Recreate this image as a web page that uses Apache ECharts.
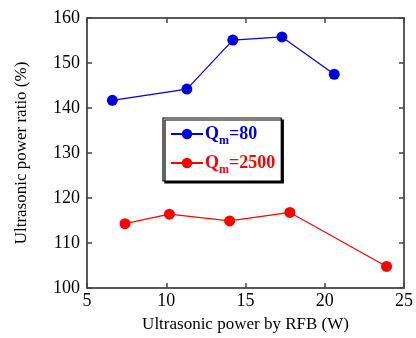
<!DOCTYPE html>
<html>
<head>
<meta charset="utf-8">
<script src="https://cdn.jsdelivr.net/npm/echarts@6/dist/echarts.min.js"></script>
<style>
  html, body { margin: 0; padding: 0; background: #fff; }
  #chart { width: 416px; height: 338px; }
</style>
</head>
<body>
<div id="chart"></div>
<script>
// data
var q80X = [6.6, 11.3, 14.2, 17.3, 20.6];
var q80Y = [141.7, 144.2, 155.1, 155.8, 147.5];
var q2500X = [7.4, 10.2, 14.0, 17.8, 23.9];
var q2500Y = [114.3, 116.4, 114.9, 116.8, 104.8];
var seriesNames = ['Qm=80', 'Qm=2500'];

var blue = '#0000dd';
var red = '#ff0000';
var font = 'Liberation Serif';

function pairs(xs, ys) {
    return xs.map(function (x, i) { return [x, ys[i]]; });
}

var chart = echarts.init(document.getElementById('chart'));

var axisLine = { lineStyle: { color: '#222', width: 1.5 } };
var axisTick = { inside: true, length: 5, lineStyle: { color: '#444', width: 1.5 } };

var option = {
    animation: false,
    textStyle: { fontFamily: font },
    grid: { left: 87, right: 8, top: 18, bottom: 45 },
    legend: {
        orient: 'vertical',
        left: 163,
        top: 118,
        padding: [7, 6, 5, 7],
        itemGap: 7,
        itemWidth: 32,
        itemHeight: 13,
        backgroundColor: '#fff',
        borderColor: '#000',
        borderWidth: 1.2,
        borderRadius: 0,
        shadowColor: '#000',
        shadowOffsetX: 2,
        shadowOffsetY: 2,
        shadowBlur: 0,
        data: [
            { name: seriesNames[0], textStyle: { color: blue } },
            { name: seriesNames[1], textStyle: { color: red } }
        ],
        formatter: function (name) {
            var rest = name.slice(2);
            return '{q|Q}{s|m}{q|' + rest + '}';
        },
        textStyle: {
            fontFamily: font,
            fontWeight: 'bold',
            padding: [0, 0, 0, -3],
            rich: {
                q: { fontSize: 18, fontWeight: 'bold', fontFamily: font },
                s: { fontSize: 12, fontWeight: 'bold', fontFamily: font, padding: [14, 0, 0, 0] }
            }
        }
    },
    xAxis: [{
        type: 'value',
        min: 5, max: 25, interval: 5,
        name: 'Ultrasonic power by RFB (W)',
        nameLocation: 'middle',
        nameGap: 28,
        nameTextStyle: { fontSize: 17, color: '#000', fontFamily: font },
        axisLine: axisLine,
        axisTick: axisTick,
        axisLabel: { fontSize: 18, color: '#000', margin: 4, fontFamily: font },
        splitLine: { show: false }
    }, {
        type: 'value',
        position: 'top',
        min: 5, max: 25, interval: 5,
        axisLine: axisLine,
        axisTick: axisTick,
        axisLabel: { show: false },
        splitLine: { show: false }
    }],
    yAxis: [{
        type: 'value',
        min: 100, max: 160, interval: 10,
        name: 'Ultrasonic power ratio (%)',
        nameLocation: 'middle',
        nameGap: 57,
        nameTextStyle: { fontSize: 17, color: '#000', fontFamily: font },
        axisLine: axisLine,
        axisTick: axisTick,
        axisLabel: { fontSize: 18, color: '#000', margin: 7, fontFamily: font },
        splitLine: { show: false }
    }, {
        type: 'value',
        position: 'right',
        min: 100, max: 160, interval: 10,
        axisLine: axisLine,
        axisTick: axisTick,
        axisLabel: { show: false },
        splitLine: { show: false }
    }],
    series: [{
        name: seriesNames[0],
        type: 'line',
        data: pairs(q80X, q80Y),
        symbol: 'circle',
        symbolSize: 11,
        itemStyle: { color: blue },
        lineStyle: { color: blue, width: 1.2 }
    }, {
        name: seriesNames[1],
        type: 'line',
        data: pairs(q2500X, q2500Y),
        symbol: 'circle',
        symbolSize: 11,
        itemStyle: { color: red },
        lineStyle: { color: red, width: 1.2 }
    }]
};

chart.setOption(option);
</script>
</body>
</html>
